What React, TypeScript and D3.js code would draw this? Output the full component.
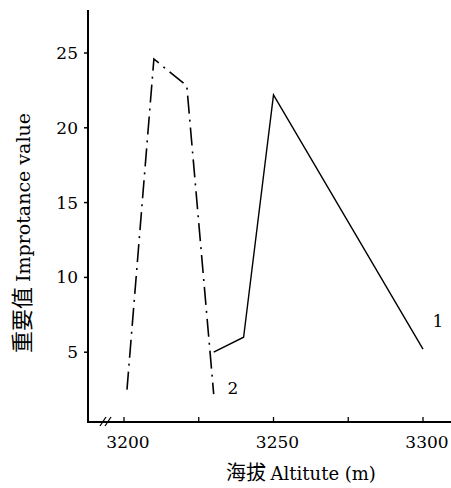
import * as d3 from "d3";

// altitude (m) / importance value
const series1 = [
  { alt: 3230, v: 5.0 },
  { alt: 3240, v: 6.0 },
  { alt: 3250, v: 22.2 },
  { alt: 3300, v: 5.2 },
];
const series2 = [
  { alt: 3201, v: 2.5 },
  { alt: 3210, v: 24.6 },
  { alt: 3221, v: 22.8 },
  { alt: 3230, v: 2.2 },
];
const xTickLabels = [3200, 3250, 3300];
const xTickMarks = [3200, 3225, 3250, 3275, 3300];
const yTicks = [5, 10, 15, 20, 25];

export default function App() {
  const width = 451;
  const height = 488;
  const x = d3.scaleLinear().domain([3200, 3300]).range([124, 423]);
  const y = d3.scaleLinear().domain([0, 25]).range([427, 53]);
  const axisX = 88;
  const axisY = 422;
  const font = "'DejaVu Serif', 'Liberation Serif', serif";
  const cjk = "'Noto Sans CJK SC', sans-serif";

  const line = d3
    .line<{ alt: number; v: number }>()
    .x((d) => x(d.alt))
    .y((d) => y(d.v));

  return (
    <svg
      width={width}
      height={height}
      style={{ position: "absolute", left: 0, top: 0, background: "#fff" }}
      fontFamily={font}
    >
      {/* axes */}
      <line x1={axisX} x2={axisX} y1={10} y2={axisY + 1} stroke="#000" strokeWidth={2} />
      <line x1={axisX - 1} x2={451} y1={axisY} y2={axisY} stroke="#000" strokeWidth={2} />
      {/* axis break */}
      <line x1={100} x2={106} y1={426} y2={417} stroke="#000" strokeWidth={1.3} />
      <line x1={105} x2={111} y1={426} y2={417} stroke="#000" strokeWidth={1.3} />

      {yTicks.map((t) => (
        <g key={`y-${t}`}>
          <line x1={axisX - 4} x2={axisX} y1={y(t)} y2={y(t)} stroke="#000" strokeWidth={1.5} />
          <text x={axisX - 10} y={y(t) + 6} textAnchor="end" fontSize={17}>
            {t}
          </text>
        </g>
      ))}

      {xTickMarks.map((t) => (
        <line key={`xt-${t}`} x1={x(t)} x2={x(t)} y1={axisY} y2={axisY - 5} stroke="#000" strokeWidth={1.3} />
      ))}
      {xTickLabels.map((t) => (
        <text key={`xl-${t}`} x={x(t) + 4} y={448} textAnchor="middle" fontSize={17}>
          {t}
        </text>
      ))}

      {/* series */}
      <path d={line(series1) ?? ""} fill="none" stroke="#000" strokeWidth={1.4} />
      <path
        d={line(series2) ?? ""}
        fill="none"
        stroke="#000"
        strokeWidth={1.6}
        strokeDasharray="18 6 2 6"
      />

      <text x={438} y={327} textAnchor="middle" fontSize={17}>1</text>
      <text x={233} y={394} textAnchor="middle" fontSize={17}>2</text>

      {/* axis titles */}
      <text transform={`translate(30,233) rotate(-90)`} textAnchor="middle" fontSize={19}>
        <tspan fontFamily={cjk} fontSize={22}>重要值 </tspan>
        <tspan>Improtance value</tspan>
      </text>
      <text x={301} y={480} textAnchor="middle" fontSize={18}>
        <tspan fontFamily={cjk} fontSize={20}>海拔 </tspan>
        <tspan>Altitute (m)</tspan>
      </text>
    </svg>
  );
}
